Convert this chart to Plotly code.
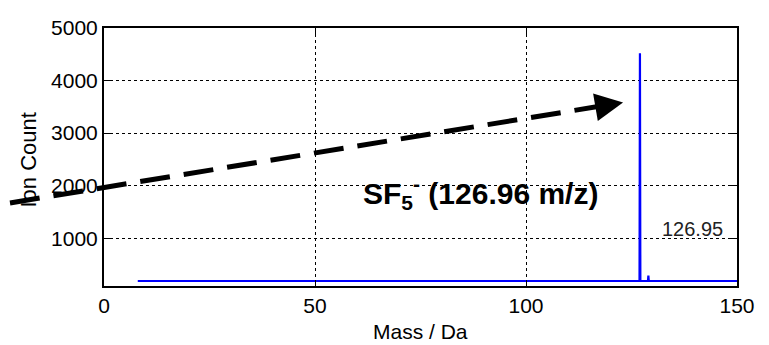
import plotly.graph_objects as go

# Spectrum data (mass in Da, ion count)
mass = [8, 126.9, 127.0, 127.1, 128.9, 129.0, 129.1, 150]
counts = [185, 185, 4520, 185, 185, 290, 185, 185]

x_ticks = [0, 50, 100, 150]
y_ticks = [1000, 2000, 3000, 4000, 5000]

peak_label = "126.95"
peak_label_pos = (139.5, 1180)

FONT = "Liberation Sans, Arial, sans-serif"

fig = go.Figure()
fig.add_trace(go.Scatter(x=mass, y=counts, mode="lines",
                         line=dict(color="#0000ff", width=2.2),
                         showlegend=False, hoverinfo="skip"))

grid = dict(showgrid=True, gridcolor="black", gridwidth=1, griddash="dot",
            showline=True, linecolor="black", linewidth=2, mirror="ticks",
            ticks="inside", ticklen=6, tickcolor="black", tickwidth=1,
            zeroline=False, ticklabeloverflow="allow",
            tickfont=dict(family=FONT, size=21, color="black"))

# page body has an 8px margin, so the figure is 8px smaller and offset
fig.update_layout(
    width=761, height=337,
    margin=dict(l=96, r=32, t=8, b=59),
    paper_bgcolor="white", plot_bgcolor="white",
    xaxis=dict(range=[0, 150], tickvals=x_ticks, **grid),
    yaxis=dict(range=[90, 5000], tickvals=y_ticks, **grid),
)

# Axis titles
fig.add_annotation(text="Mass / Da", xref="paper", yref="paper",
                   x=0.5, y=-0.178, yanchor="middle", showarrow=False,
                   font=dict(family=FONT, size=21, color="black"))
fig.add_annotation(text="Ion Count", xref="paper", yref="paper",
                   x=-0.119, y=0.489, textangle=-90, showarrow=False,
                   xanchor="center", yanchor="middle",
                   font=dict(family=FONT, size=22, color="black"))

# Peak label
fig.add_annotation(text=peak_label, x=peak_label_pos[0], y=peak_label_pos[1],
                   showarrow=False, font=dict(family=FONT, size=20, color="#222222"))

# SF5- annotation
fig.add_annotation(text="<b>SF<sub>5</sub><sup>-</sup> (126.96 m/z)</b>",
                   xref="paper", yref="paper", x=0.594, y=0.27,
                   showarrow=False, font=dict(family=FONT, size=30, color="black"))

# Dashed arrow
fig.add_shape(type="line", xref="paper", yref="paper",
              x0=-0.1485, y0=0.322, x1=0.7915, y1=0.700,
              line=dict(color="black", width=5, dash="30px,14px"), layer="above")
fig.add_annotation(xref="paper", yref="paper", x=0.820, y=0.711,
                   ax=-25, ay=4.25, text="", showarrow=True,
                   arrowhead=2, arrowsize=1.4, arrowwidth=4, arrowcolor="black")

fig.write_html("out.html")
